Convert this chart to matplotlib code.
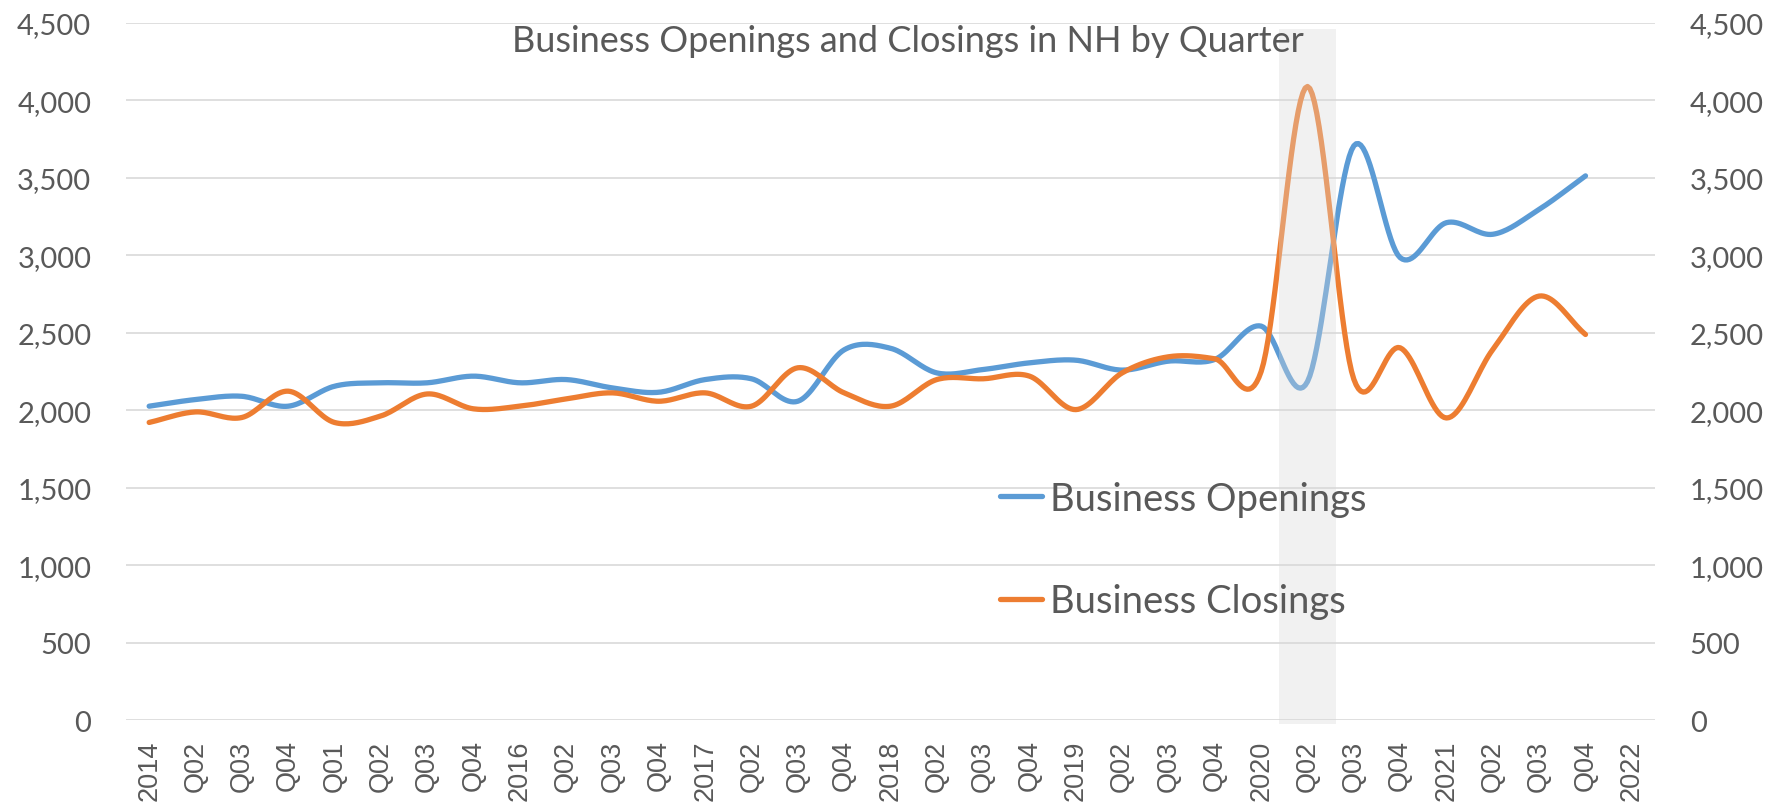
import numpy as np
import matplotlib.pyplot as plt

# quarter labels along the bottom (33 slots, last one has no data)
quarters = ['2014', 'Q02', 'Q03', 'Q04', 'Q01', 'Q02', 'Q03', 'Q04',
            '2016', 'Q02', 'Q03', 'Q04', '2017', 'Q02', 'Q03', 'Q04',
            '2018', 'Q02', 'Q03', 'Q04', '2019', 'Q02', 'Q03', 'Q04',
            '2020', 'Q02', 'Q03', 'Q04', '2021', 'Q02', 'Q03', 'Q04', '2022']

openings = [2026, 2069, 2090, 2026, 2155, 2177, 2177, 2220,
            2177, 2198, 2144, 2116, 2198, 2203, 2058, 2390,
            2400, 2241, 2263, 2306, 2323, 2259, 2317, 2328,
            2543, 2185, 3707, 2985, 3211, 3136, 3297, 3513]

closings = [1921, 1989, 1953, 2123, 1921, 1963, 2105, 2009,
            2026, 2073, 2112, 2058, 2112, 2026, 2274, 2112,
            2026, 2198, 2203, 2220, 2004, 2241, 2345, 2332,
            2250, 4090, 2200, 2403, 1950, 2392, 2737, 2489]

highlight = 25  # 2020 Q02

blue = '#5B9BD5'
orange = '#ED7D31'
grey_txt = '#595959'


def smooth(y, n=20):
    # catmull-rom style smoothing like excel's "smoothed line"
    y = np.asarray(y, dtype=float)
    x = np.arange(len(y), dtype=float)
    m = np.zeros_like(y)
    m[1:-1] = (y[2:] - y[:-2]) / 2
    m[0] = y[1] - y[0]
    m[-1] = y[-1] - y[-2]
    xs, ys = [], []
    t = np.linspace(0, 1, n, endpoint=False)
    for i in range(len(y) - 1):
        h00 = 2*t**3 - 3*t**2 + 1
        h10 = t**3 - 2*t**2 + t
        h01 = -2*t**3 + 3*t**2
        h11 = t**3 - t**2
        xs.append(x[i] + t)
        ys.append(h00*y[i] + h10*m[i] + h01*y[i+1] + h11*m[i+1])
    xs.append([x[-1]])
    ys.append([y[-1]])
    return np.concatenate(xs), np.concatenate(ys)


fig = plt.figure(figsize=(17.83, 8.04), dpi=100)
ax = fig.add_axes([126/1783, 1 - 721/804, 1529/1783, 697/804])

xo, yo = smooth(openings)
xc, yc = smooth(closings)
ax.plot(xo, yo, color=blue, lw=3.8, solid_capstyle='round', label='Business Openings', zorder=3)
ax.plot(xc, yc, color=orange, lw=3.8, solid_capstyle='round', label='Business Closings', zorder=4)

# shaded quarter, drawn semi-transparent over the lines
ax.bar(highlight, 4487, bottom=-26, width=1.23, color='#d9d9d9', alpha=0.35,
       zorder=5, clip_on=False)

ax.set_xlim(-0.5, len(quarters) - 0.5)
ax.set_ylim(0, 4500)
ax.set_yticks(np.arange(0, 4501, 500))
ax.set_yticklabels([f'{v:,}' for v in range(0, 4501, 500)])
ax.set_xticks(range(len(quarters)))
ax.set_xticklabels(quarters, rotation=90, family='Liberation Sans', fontsize=19.5, color=grey_txt)
ax.grid(axis='y', color='#d9d9d9', lw=1.2)
ax.set_axisbelow(True)
for s in ax.spines.values():
    s.set_visible(False)
ax.tick_params(axis='x', length=0, pad=14)
ax.tick_params(axis='y', length=0, pad=25, labelleft=True, labelright=True,
               labelsize=21, labelcolor=grey_txt)
for lab in ax.get_yticklabels():
    lab.set_family('Lato')

fig.text(908/1783, 1 - 42/804, 'Business Openings and Closings in NH by Quarter',
         ha='center', va='center', family='Lato', fontsize=26, color=grey_txt)

leg = ax.legend(loc='center left', bbox_to_anchor=(1000/1783, 1 - 551/804),
                bbox_transform=fig.transFigure, frameon=False,
                prop={'family': 'Lato', 'size': 27.5}, handlelength=1.1,
                handletextpad=0.2, labelspacing=1.75, borderpad=0, borderaxespad=0)
for t in leg.get_texts():
    t.set_color(grey_txt)

fig.savefig('out.png', dpi=100)
